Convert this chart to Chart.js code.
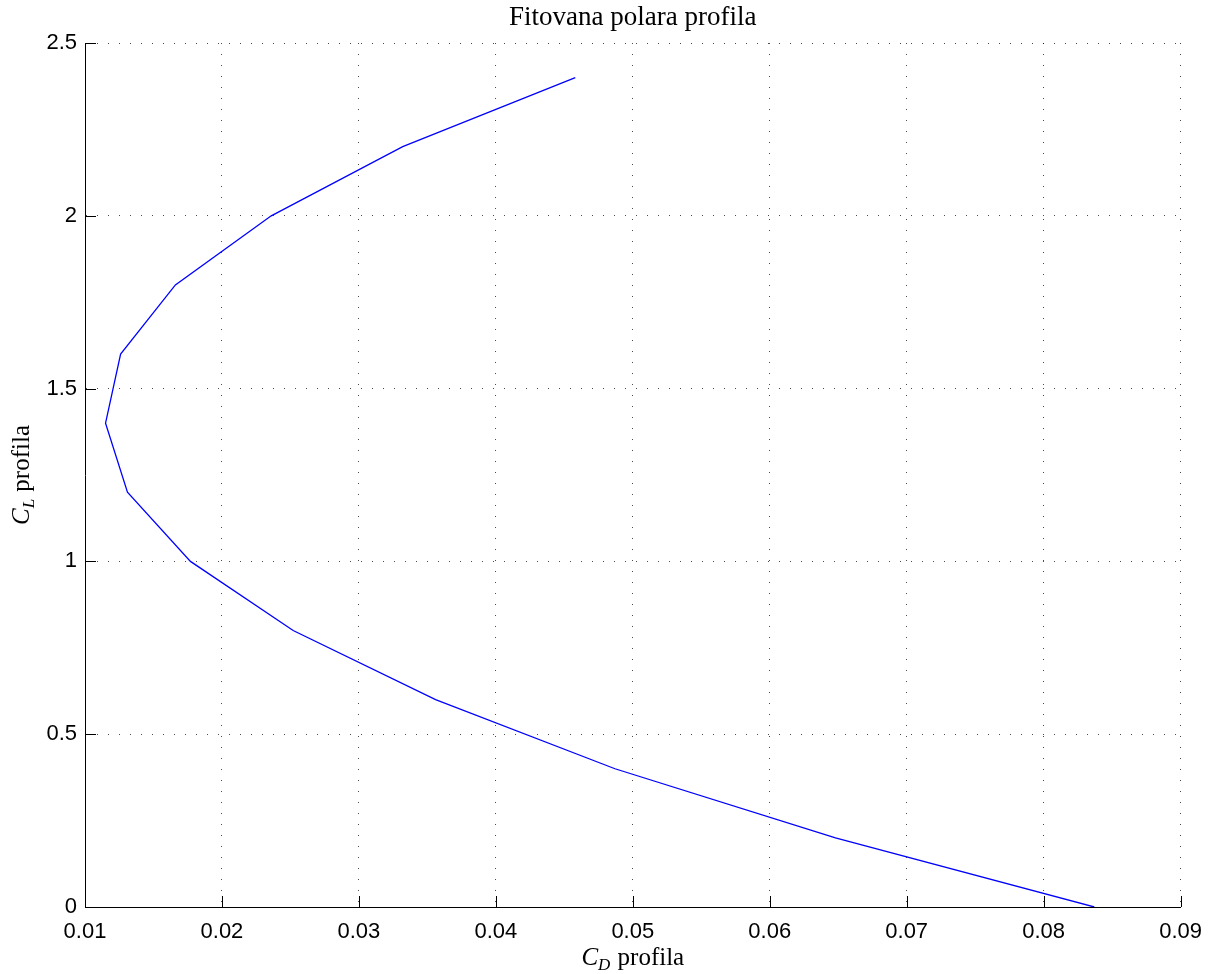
<!DOCTYPE html>
<html>
<head>
<meta charset="utf-8">
<script src="https://cdn.jsdelivr.net/npm/chart.js@4"></script>
<style>
  html, body { margin: 0; padding: 0; background: #fff; }
  #wrap { width: 1214px; height: 974px; }
</style>
</head>
<body>
<div id="wrap"><canvas id="polarChart"></canvas></div>
<script>
// fitted profile polar
const clValues = [0, 0.2, 0.4, 0.6, 0.8, 1.0, 1.2, 1.4, 1.6, 1.8, 2.0, 2.2, 2.4];
const cdValues = [0.0837, 0.0648, 0.0487, 0.0356, 0.0252, 0.0177, 0.0131, 0.0115, 0.0126, 0.0166, 0.0236, 0.0332, 0.0458];
const xTicks = [0.01, 0.02, 0.03, 0.04, 0.05, 0.06, 0.07, 0.08, 0.09];
const yTicks = [0, 0.5, 1, 1.5, 2, 2.5];
const chartTitle = 'Fitovana polara profila';

const points = cdValues.map((cd, i) => ({ x: cd, y: clValues[i] }));

const tickFont = { family: '"Liberation Sans", Arial, sans-serif', size: 22 };

// matlab-ish decorations: inward ticks, title and axis labels with subscripts
const decorations = {
  id: 'decorations',
  afterDraw(chart) {
    const { ctx, chartArea: a, scales: { x, y } } = chart;
    ctx.save();
    ctx.strokeStyle = '#000';
    ctx.lineWidth = 1;
    ctx.beginPath();
    xTicks.forEach(v => {
      const px = Math.round(x.getPixelForValue(v)) + 0.5;
      ctx.moveTo(px, a.bottom);
      ctx.lineTo(px, a.bottom - 11);
    });
    yTicks.forEach(v => {
      const py = Math.round(y.getPixelForValue(v)) + 0.5;
      ctx.moveTo(a.left, py);
      ctx.lineTo(a.left + 11, py);
    });
    ctx.stroke();

    ctx.fillStyle = '#000';
    ctx.textBaseline = 'alphabetic';

    // title
    ctx.font = '27px "Liberation Serif", serif';
    ctx.textAlign = 'center';
    ctx.fillText(chartTitle, (a.left + a.right) / 2, 25);

    const drawLabel = (sub, cx, baseY) => {
      const main = '25px "Liberation Serif", serif';
      const ital = 'italic 25px "Liberation Serif", serif';
      const small = 'italic 17px "Liberation Serif", serif';
      ctx.font = ital; const wC = ctx.measureText('C').width;
      ctx.font = small; const wS = ctx.measureText(sub).width;
      ctx.font = main; const wR = ctx.measureText(' profila').width;
      let xx = cx - (wC + wS + 1 + wR) / 2;
      ctx.textAlign = 'left';
      ctx.font = ital; ctx.fillText('C', xx, baseY); xx += wC;
      ctx.font = small; ctx.fillText(sub, xx, baseY + 5); xx += wS + 1;
      ctx.font = main; ctx.fillText(' profila', xx, baseY);
    };

    drawLabel('D', (a.left + a.right) / 2, 965);

    ctx.translate(29, (a.top + a.bottom) / 2);
    ctx.rotate(-Math.PI / 2);
    drawLabel('L', 0, 0);
    ctx.restore();
  }
};

const ctx = document.getElementById('polarChart').getContext('2d');

new Chart(ctx, {
  type: 'scatter',
  data: {
    datasets: [{
      data: points,
      showLine: true,
      borderColor: '#0000ff',
      borderWidth: 1.3,
      pointRadius: 0,
      fill: false,
      tension: 0
    }]
  },
  options: {
    responsive: true,
    maintainAspectRatio: false,
    animation: false,
    layout: { padding: { top: 43, right: 33, left: 0, bottom: 0 } },
    plugins: {
      legend: { display: false },
      tooltip: { enabled: false }
    },
    scales: {
      x: {
        type: 'linear',
        min: 0.01,
        max: 0.09,
        afterFit(scale) { scale.height = 67; },
        afterBuildTicks(scale) { scale.ticks = xTicks.map(v => ({ value: v })); },
        ticks: {
          color: '#000',
          font: tickFont,
          padding: 12,
          maxRotation: 0,
          callback: v => v.toFixed(2)
        },
        grid: { color: 'rgba(0,0,0,0.7)', lineWidth: 1, drawTicks: false },
        border: { display: true, color: '#000', width: 1, dash: [1, 10] }
      },
      y: {
        type: 'linear',
        min: 0,
        max: 2.5,
        afterFit(scale) { scale.width = 85; },
        afterBuildTicks(scale) { scale.ticks = yTicks.map(v => ({ value: v })); },
        ticks: {
          color: '#000',
          font: tickFont,
          padding: 8,
          callback: v => String(v)
        },
        grid: { color: 'rgba(0,0,0,0.7)', lineWidth: 1, drawTicks: false },
        border: { display: true, color: '#000', width: 1, dash: [1, 10] }
      }
    }
  },
  plugins: [decorations]
});
</script>
</body>
</html>
